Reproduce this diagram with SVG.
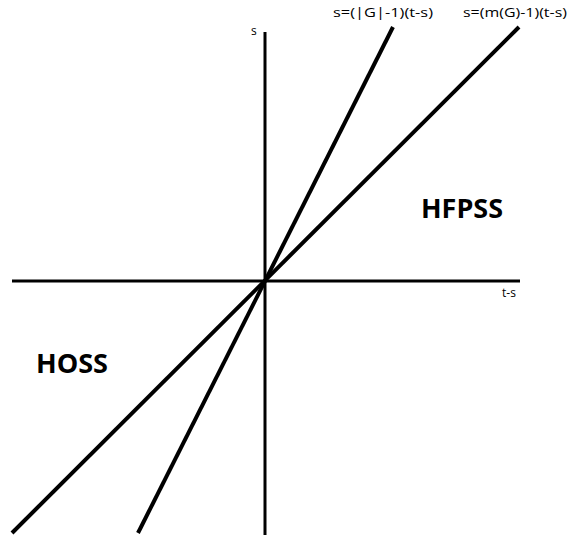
<svg xmlns="http://www.w3.org/2000/svg" width="570" height="535" viewBox="0 0 570 535">
<style>
.ax{stroke:#000;stroke-width:3;fill:none}
.ln{stroke:#000;stroke-width:4;fill:none}
.sm{font-family:"Open Sans","Liberation Sans",sans-serif;font-size:12px;fill:#000}
.big{font-family:"Open Sans","Liberation Sans",sans-serif;font-size:27px;font-weight:bold;fill:#000}
</style>
<rect width="570" height="535" fill="#fff"/>
<g id="connectors">
<line class="ax" x1="265" y1="32" x2="265" y2="535"/>
<line class="ax" x1="12" y1="281" x2="520" y2="281"/>
<line class="ln" x1="393" y1="27" x2="138" y2="533"/>
<line class="ln" x1="519" y1="27" x2="12" y2="533"/>
</g>
<g id="axis-s"><text class="sm" x="251" y="35">s</text></g>
<g id="axis-ts"><text class="sm" x="502" y="297">t-s</text></g>
<g id="label-G"><text class="sm" x="333" y="17" textLength="100" lengthAdjust="spacingAndGlyphs">s=(|G|-1)(t-s)</text></g>
<g id="label-mG"><text class="sm" x="463" y="17" textLength="104" lengthAdjust="spacingAndGlyphs">s=(m(G)-1)(t-s)</text></g>
<g id="HFPSS"><text class="big" x="421" y="218" textLength="82" lengthAdjust="spacingAndGlyphs">HFPSS</text></g>
<g id="HOSS"><text class="big" x="36" y="373" textLength="72" lengthAdjust="spacingAndGlyphs">HOSS</text></g>
</svg>
